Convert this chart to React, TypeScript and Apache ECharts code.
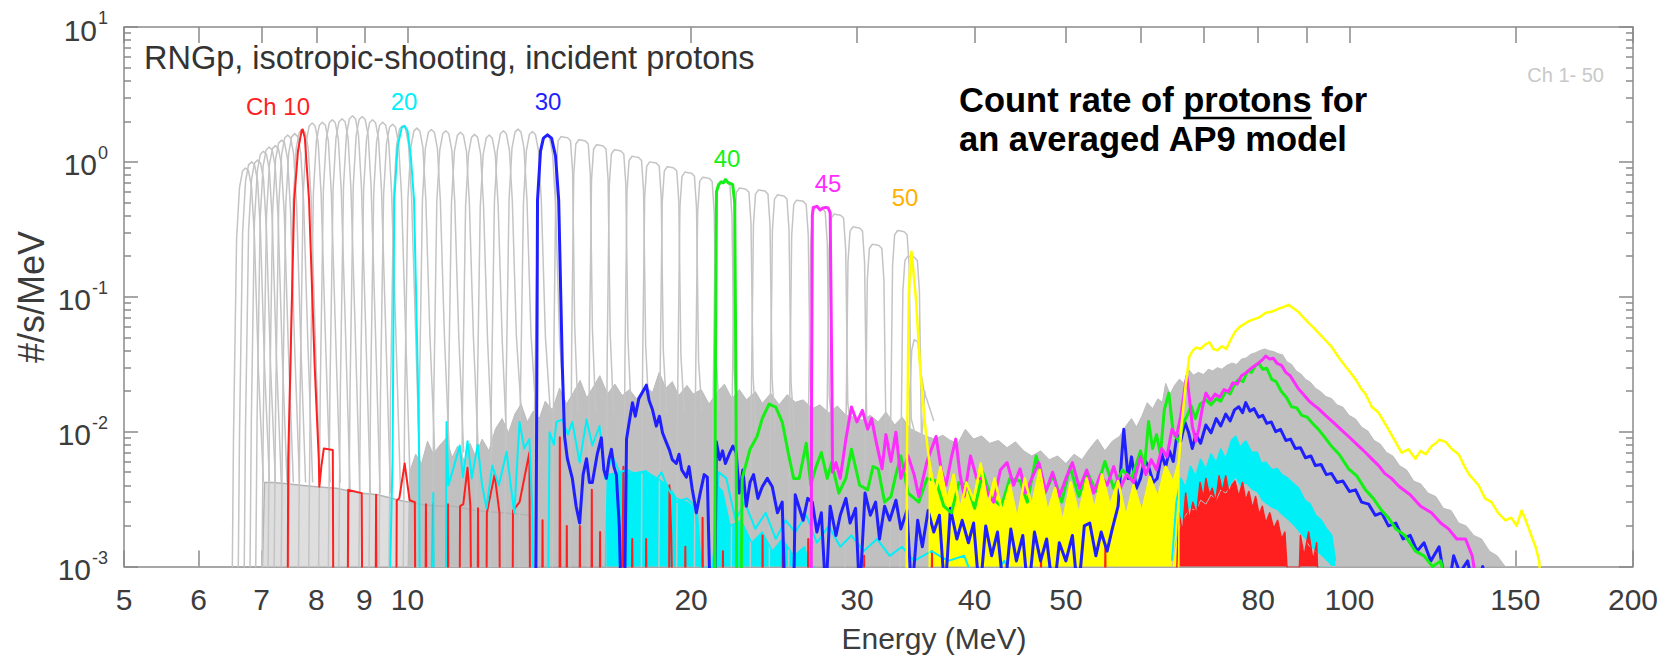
import React, { useEffect, useRef } from "react";
import * as echarts from "echarts";

type P = [number, number][];
// value standing for "zero counts": below the 1e-3 axis floor, so the line drops to the bottom
const Z = 6e-4;

// ---------------- axes ----------------
const X_TICKS = [5, 6, 7, 8, 9, 10, 20, 30, 40, 50, 60, 70, 80, 90, 100, 150, 200];
const X_LABELS = [5, 6, 7, 8, 9, 10, 20, 30, 40, 50, 80, 100, 150, 200];
const Y_DECADES = [-3, -2, -1, 0, 1];

// ---------------- channels 1-50 (grey) ----------------
const CH_E = [
  6.73, 6.83, 6.93, 7.03, 7.13, 7.24, 7.35, 7.46, 7.59, 7.73,
  7.92, 8.12, 8.32, 8.52, 8.74, 8.95, 9.18, 9.41, 9.64, 9.88,
  10.23, 10.6, 10.98, 11.38, 11.78, 12.21, 12.64, 13.1, 13.57, 14.05,
  14.67, 15.32, 16.0, 16.71, 17.45, 18.22, 19.02, 19.86, 20.74, 21.66,
  22.69, 23.77, 24.9, 26.1, 27.34, 28.6, 29.95, 31.4, 33.4, 34.25,
];
const CH_H = [
  0.9, 1.0, 1.03, 1.2, 1.29, 1.32, 1.45, 1.58, 1.62, 1.74,
  1.94, 1.97, 2.05, 2.09, 2.2, 2.17, 2.05, 1.97, 1.9, 1.85,
  1.78, 1.74, 1.7, 1.66, 1.6, 1.58, 1.7, 1.75, 1.68, 1.58,
  1.54, 1.46, 1.34, 1.23, 1.1, 1.0, 0.92, 0.84, 0.77, 0.72,
  0.64, 0.62, 0.57, 0.52, 0.46, 0.41, 0.33, 0.245, 0.31, 0.2,
];
const CH_TAIL = [
  0.0042, 0.0042, 0.0042, 0.0042, 0.0042, 0.0042, 0.0042, 0.0042, 0.0042, 0.0042,
  0.0042, 0.0042, 0.0035, 0.0035, 0.0035, 0.0035, 0.0035, 0.0035, 0.0035, 0.0035,
  0.007, 0.007, 0.007, 0.007, 0.007, 0.007, 0.014, 0.014, 0.014, 0.014,
  0.014, 0.014, 0.014, 0.014, 0.014, 0.014, 0.014, 0.014, 0.014, 0.014,
  0.01, 0.01, 0.01, 0.01, 0.01, 0.01, 0.01, 0.01, 0.01, 0.02,
];
// measured response shape (offset in log10 E, height relative to the channel peak)
const PEAK_DLOG = [-0.015, -0.0128, -0.0095, -0.0064, -0.0032, 0, 0.0032, 0.0064, 0.0095, 0.0138];
const PEAK_REL = [0.0002, 0.01, 0.3, 0.72, 0.95, 1, 0.95, 0.72, 0.3, 0.03];
const PEAK_TAIL_DLOG = 0.019;
const FLAT_DLOG = [-0.013, -0.011, -0.0088, -0.0066, -0.0035, 0, 0.0035, 0.0066, 0.0088, 0.011];
const FLAT_REL = [0.0002, 0.03, 0.55, 0.93, 1, 0.99, 0.98, 0.93, 0.55, 0.04];
const FLAT_TAIL_DLOG = 0.0145;

// ---------------- grey background ----------------
const GRAY_LIGHT: P = [
  [7.0, Z], [7.05, 0.0042], [7.2, 0.0042], [7.45, 0.0041], [7.7, 0.004], [8.0, 0.0039], [8.4, 0.0038],
  [8.9, 0.0035], [9.3, 0.0034], [9.8, 0.0031], [10.3, 0.0029], [10.8, 0.0028], [11.2, 0.0028],
  [11.8, 0.0026], [12.6, 0.0025], [13.5, 0.0024], [13.6, Z],
];
const GRAY_BAND: P = [
  [10.0, Z], [10.05, 0.005], [10.2, 0.0068], [10.35, 0.0058], [10.5, 0.0085], [10.65, 0.0068], [10.8, 0.0078],
  [11.0, 0.009], [11.15, 0.0064], [11.3, 0.0078], [11.5, 0.006], [11.65, 0.0082], [11.8, 0.0066], [12.0, 0.0088],
  [12.2, 0.0072], [12.4, 0.0105], [12.6, 0.0125], [12.8, 0.0098], [13.0, 0.0135], [13.2, 0.016], [13.4, 0.0118],
  [13.6, 0.0142], [13.8, 0.0125], [14.0, 0.0168], [14.25, 0.0145], [14.5, 0.021], [14.75, 0.016], [15.0, 0.0195],
  [15.25, 0.024], [15.5, 0.0178], [15.75, 0.0215], [16.0, 0.026], [16.3, 0.019], [16.6, 0.0225], [16.9, 0.0185],
  [17.2, 0.0205], [17.5, 0.0175], [17.9, 0.0215], [18.2, 0.0195], [18.5, 0.0275], [18.8, 0.021], [19.1, 0.0235],
  [19.4, 0.0185], [19.8, 0.022], [20.1, 0.019], [20.5, 0.0205], [20.9, 0.016], [21.3, 0.0195], [21.7, 0.0225],
  [22.1, 0.0175], [22.5, 0.0205], [22.9, 0.0172], [23.4, 0.0198], [23.8, 0.0162], [24.3, 0.0192], [24.8, 0.0158],
  [25.3, 0.0188], [25.8, 0.0165], [26.3, 0.0172], [26.9, 0.0148], [27.4, 0.0158], [28.0, 0.0138], [28.6, 0.0155],
  [29.2, 0.0132], [29.8, 0.0128], [30.4, 0.0122], [31.0, 0.0132], [31.6, 0.0118], [32.2, 0.014], [32.9, 0.0112],
  [33.5, 0.0128], [34.2, 0.0105], [34.9, 0.0098], [35.6, 0.0092], [36.3, 0.0088], [37.0, 0.0094], [37.7, 0.0086],
  [38.4, 0.0082], [39.1, 0.0104], [39.9, 0.0088], [40.7, 0.0093], [41.5, 0.0082], [42.4, 0.0086], [43.3, 0.0076],
  [44.2, 0.0084], [45.1, 0.0072], [46.0, 0.0066], [47.0, 0.0072], [48.0, 0.0062], [49.0, 0.0066], [50.0, 0.0058],
  [51.0, 0.0068], [52.0, 0.0062], [53.0, 0.0075], [54.0, 0.0088], [55.0, 0.0072], [56.0, 0.0085], [57.0, 0.0092],
  [58.0, 0.0112], [58.7, 0.0125], [59.4, 0.0108], [60.2, 0.013], [61.0, 0.0164], [61.8, 0.0148], [62.6, 0.0175],
  [63.3, 0.0165], [63.8, 0.0228], [64.5, 0.019], [65.2, 0.022], [66.0, 0.0245], [66.7, 0.0228], [67.5, 0.0288],
  [68.3, 0.0262], [69.1, 0.0275], [70.0, 0.0265], [70.8, 0.029], [71.6, 0.0282], [72.4, 0.0298], [73.2, 0.029],
  [74.1, 0.031], [75.0, 0.0322], [75.9, 0.0315], [76.8, 0.0345], [77.7, 0.0352], [78.6, 0.0375], [79.5, 0.0385],
  [80.4, 0.04], [81.3, 0.041], [82.2, 0.0398], [83.1, 0.0392], [84.0, 0.0378], [84.9, 0.0372], [85.8, 0.033],
  [86.8, 0.0315], [87.8, 0.0282], [88.8, 0.0268], [89.8, 0.0245], [90.9, 0.0232], [92.0, 0.021], [93.2, 0.0198],
  [94.4, 0.0182], [95.7, 0.0176], [97.0, 0.0158], [98.4, 0.0152], [99.9, 0.0132], [101.5, 0.0124], [103.0, 0.0108],
  [104.6, 0.0101], [106.2, 0.0086], [107.8, 0.0081], [109.5, 0.007], [111.2, 0.0066], [113.0, 0.0056],
  [115.0, 0.0052], [117.0, 0.0043], [119.0, 0.0041], [121.2, 0.0035], [123.5, 0.0033], [125.8, 0.0027],
  [128.2, 0.0026], [130.6, 0.0021], [133.0, 0.002], [135.5, 0.0017], [138.1, 0.0016], [140.8, 0.0013],
  [143.5, 0.0012], [146.3, 0.001], [149.0, 0.0009], [151.2, Z],
];
const GRAY_EXTRA: P = [
  [34.1, Z], [34.15, 0.02], [34.3, 0.04], [34.5, 0.048], [34.83, 0.046], [35.0, 0.03], [35.35, 0.02], [36.2, 0.012],
];

// ---------------- Ch 10 (red) ----------------
const RED_TRACE: P = [
  [7.46, Z], [7.47, 0.0062], [7.58, 0.52], [7.65, 1.2], [7.72, 1.72], [7.74, 1.74], [7.78, 1.5], [7.86, 0.52],
  [7.97, 0.03], [8.05, 0.0062], [8.06, 0.0039], [8.1, 0.0055], [8.15, 0.0075], [8.33, 0.0073], [8.34, Z],
  [8.64, Z], [8.65, 0.0037], [8.94, 0.0035], [8.95, Z], [9.25, Z], [9.26, 0.0034], [9.27, Z], [9.73, Z],
  [9.74, 0.0031], [9.8, 0.0032], [9.93, 0.0058], [10.05, 0.0031], [10.18, 0.003], [10.19, Z], [10.45, Z],
  [10.46, 0.0029], [10.47, Z], [10.63, Z], [10.64, 0.0029], [10.65, Z], [11.03, Z], [11.04, 0.0029], [11.05, Z],
  [11.36, Z], [11.37, 0.0028], [11.46, 0.0029], [11.58, 0.0054], [11.66, 0.0028], [11.68, Z], [11.87, Z],
  [11.88, 0.0027], [11.89, Z], [12.13, Z], [12.14, 0.0025], [12.37, 0.0048], [12.52, 0.0025], [12.53, Z],
  [12.93, Z], [12.94, 0.0026], [13.15, 0.003], [13.47, 0.007], [13.49, Z], [13.9, Z], [13.91, 0.0022],
  [13.92, Z], [14.5, Z], [14.51, 0.0091], [14.53, Z], [14.75, Z], [14.76, 0.002], [14.77, Z], [15.23, Z],
  [15.24, 0.002], [15.25, Z], [15.68, Z], [15.69, 0.0037], [15.7, Z], [16.0, Z], [16.01, 0.0018], [16.02, Z],
  [16.9, Z], [16.95, 0.0055], [17.0, Z], [17.3, Z], [17.32, 0.0016], [17.34, Z], [17.9, Z], [17.92, 0.0016],
  [17.94, Z], [18.95, Z], [18.97, 0.004], [19.05, 0.0018], [19.1, Z], [19.7, Z], [19.72, 0.0014], [19.74, Z],
  [20.55, Z], [20.57, 0.0023], [20.59, Z], [21.6, Z], [21.62, 0.0013], [21.64, Z], [23.8, Z], [23.82, 0.0017],
  [23.84, Z], [25.0, Z], [25.03, 0.0017], [25.06, Z], [26.6, Z], [26.63, 0.0016], [26.66, Z], [30.5, Z],
  [30.53, 0.0012], [30.56, Z], [36.0, Z], [36.04, 0.0013], [36.08, Z], [47.0, Z], [47.05, 0.0012], [47.1, Z],
  [55.0, Z], [55.06, 0.0014], [55.12, Z], [65.0, Z],
];
const RED_BUMP: P = [
  [65.4, Z], [65.9, 0.0025], [66.5, 0.0018], [67.0, 0.0035], [67.6, 0.0022], [68.2, 0.003], [68.8, 0.0024],
  [69.4, 0.0042], [70.0, 0.0032], [70.4, 0.0045], [71.0, 0.0034], [71.5, 0.0038], [72.1, 0.003], [72.7, 0.0047],
  [73.3, 0.0036], [73.9, 0.0047], [74.5, 0.0035], [75.0, 0.004], [75.6, 0.0043], [76.3, 0.0033], [77.0, 0.0042],
  [77.6, 0.0031], [78.2, 0.0036], [78.9, 0.0027], [79.5, 0.0033], [80.2, 0.0024], [80.8, 0.0028], [81.5, 0.0021],
  [82.3, 0.0025], [83.1, 0.0019], [83.9, 0.0022], [84.7, 0.0016], [85.4, 0.0018], [86.2, Z], [88.3, Z],
  [88.7, 0.0017], [89.5, 0.0012], [90.5, 0.0018], [91.5, 0.0011], [92.3, 0.0015], [92.7, Z],
];

// ---------------- Ch 20 (cyan) ----------------
const CYAN_TRACE: P = [
  [9.57, Z], [9.64, 0.0062], [9.68, 0.52], [9.76, 1.3], [9.86, 1.8], [9.93, 1.85], [10.0, 1.7], [10.08, 1.1],
  [10.16, 0.52], [10.25, 0.03], [10.29, 0.0062], [10.3, Z], [10.64, Z], [10.65, 0.0035], [10.66, Z], [10.98, Z],
  [11.0, 0.0118], [11.05, 0.004], [11.2, 0.0055], [11.36, 0.0079], [11.45, 0.0046], [11.58, 0.0085], [11.7, 0.0045],
  [11.87, 0.008], [12.0, 0.004], [12.13, 0.0027], [12.3, 0.0056], [12.5, 0.004], [12.74, 0.0071], [12.98, 0.0025],
  [13.15, 0.0118], [13.3, 0.0075], [13.47, 0.0088], [13.57, 0.0025], [13.6, Z], [14.1, Z], [14.15, 0.0099],
  [14.3, 0.008], [14.39, 0.0118], [14.6, 0.0123], [14.8, 0.0095], [14.96, 0.0118], [15.23, 0.0059], [15.49, 0.0123],
  [15.71, 0.0079], [15.99, 0.011], [16.2, 0.0045], [16.5, 0.0066], [16.78, 0.005], [17.1, 0.0052], [17.5, 0.0048],
  [17.9, 0.0051], [18.3, 0.0042], [18.6, 0.005], [18.9, 0.0038], [19.3, 0.003], [19.8, 0.0032], [20.2, 0.0028],
  [20.6, Z], [21.0, Z], [21.4, 0.005], [21.8, 0.0045], [22.3, 0.0022], [22.8, 0.003], [23.4, 0.0019], [24.0, 0.0025],
  [24.6, 0.0016], [25.2, 0.0022], [25.8, 0.0018], [26.5, 0.0024], [27.2, 0.0015], [28.0, 0.002], [28.8, 0.0014],
  [29.6, 0.0017], [30.5, 0.0013], [31.5, 0.0016], [32.5, 0.0012], [33.5, 0.0014], [34.5, 0.0011], [36.0, 0.0013],
  [37.5, 0.0011], [39.0, 0.0012], [40.5, Z], [43.0, 0.0011], [45.0, Z], [48.0, 0.001], [50.0, Z], [64.8, Z],
];
const CYAN_FILL: P = [
  [16.2, Z], [16.3, 0.0048], [16.8, 0.005], [17.3, 0.0049], [17.9, 0.0051], [18.4, 0.0045], [18.9, 0.004],
  [19.3, 0.0032], [19.8, 0.003], [20.3, 0.0026], [20.6, Z], [21.1, Z], [21.2, 0.0042], [21.6, 0.0036],
  [22.0, 0.002], [22.6, 0.0022], [23.2, 0.0015], [23.8, 0.0018], [24.4, 0.0013], [25.0, 0.0016], [25.7, 0.0012],
  [26.4, 0.0014], [27.1, Z],
];
// cyan band in the high-energy bump: upper and lower edges
const CYAN_BAND_E = [
  64.8, 65.5, 66.2, 67.0, 67.8, 68.7, 69.5, 70.4, 71.3, 72.2, 73.0, 73.9, 75.0, 75.7, 76.5, 77.6, 78.7,
  79.8, 80.6, 81.5, 82.7, 83.8, 84.7, 86.0, 87.2, 88.3, 89.6, 90.8, 92.0, 93.3, 94.5, 95.7, 96.6,
];
const CYAN_BAND_HI = [
  0.0011, 0.003, 0.0045, 0.0038, 0.0055, 0.0046, 0.0062, 0.0052, 0.0068, 0.0058, 0.0074, 0.0062, 0.0086,
  0.0092, 0.0076, 0.0085, 0.007, 0.007, 0.0058, 0.0059, 0.0052, 0.0053, 0.0048, 0.0045, 0.0041, 0.0038,
  0.0031, 0.0029, 0.0024, 0.0022, 0.0019, 0.0017, 0.0011,
];
const CYAN_BAND_LO = [
  0.001, 0.0016, 0.0021, 0.0024, 0.0027, 0.0026, 0.0031, 0.0029, 0.0034, 0.0031, 0.0037, 0.0035, 0.0041,
  0.0045, 0.0039, 0.0041, 0.0037, 0.0035, 0.0031, 0.0029, 0.0027, 0.0026, 0.0024, 0.0022, 0.002, 0.0018,
  0.0016, 0.0014, 0.0013, 0.0012, 0.0011, 0.001, 0.001,
];

// ---------------- Ch 30 (blue) ----------------
const BLUE_TRACE: P = [
  [13.68, Z], [13.71, 0.01], [13.74, 0.52], [13.84, 1.2], [13.94, 1.5], [14.08, 1.585], [14.22, 1.5], [14.36, 1.1],
  [14.47, 0.52], [14.6, 0.03], [14.68, 0.0092], [14.78, 0.0063], [14.96, 0.0045], [15.1, 0.0028], [15.23, 0.0021],
  [15.36, 0.0048], [15.49, 0.0063], [15.6, 0.0042], [15.71, 0.0042], [15.9, 0.0068], [16.06, 0.009], [16.16, 0.0052],
  [16.26, 0.0045], [16.36, 0.0062], [16.46, 0.0074], [16.56, 0.0055], [16.66, 0.0048], [16.78, 0.002], [16.85, Z],
  [17.0, Z], [17.08, 0.0088], [17.2, 0.012], [17.33, 0.0164], [17.45, 0.013], [17.6, 0.0175], [17.75, 0.0195],
  [17.93, 0.0221], [18.05, 0.017], [18.2, 0.0145], [18.37, 0.011], [18.51, 0.013], [18.65, 0.0098], [18.8, 0.0085],
  [18.97, 0.0073], [19.1, 0.0062], [19.29, 0.0058], [19.42, 0.0068], [19.55, 0.0052], [19.77, 0.0046], [19.9, 0.0055],
  [20.05, 0.0038], [20.26, 0.0025], [20.45, 0.0035], [20.65, 0.0048], [20.81, 0.0046], [20.95, Z], [21.2, Z],
  [21.27, 0.0084], [21.45, 0.0062], [21.6, 0.0072], [21.75, 0.0058], [21.95, 0.0068], [22.15, 0.0078], [22.33, 0.007],
  [22.5, 0.0035], [22.7, 0.0052], [22.89, 0.0028], [23.1, 0.0042], [23.3, 0.0048], [23.55, 0.0032], [23.8, 0.0039],
  [24.1, 0.0045], [24.39, 0.0039], [24.7, 0.0025], [24.99, 0.003], [25.15, Z], [25.7, Z], [25.8, 0.0034],
  [26.3, 0.0022], [26.6, 0.0032], [26.9, 0.003], [27.2, 0.0018], [27.5, 0.0025], [27.8, Z], [28.1, 0.0028],
  [28.5, 0.0017], [28.8, 0.0024], [29.2, 0.0032], [29.5, 0.0021], [29.9, 0.0027], [30.2, Z], [30.6, 0.0035],
  [31.0, 0.0024], [31.4, 0.003], [31.7, 0.0016], [32.1, 0.0028], [32.5, 0.0022], [33.0, 0.0031], [33.4, 0.0019],
  [33.9, 0.0026], [34.3, Z], [34.8, 0.0022], [35.2, 0.0014], [35.7, 0.0026], [36.2, 0.0018], [36.7, 0.0024],
  [37.2, Z], [37.7, 0.0027], [38.3, 0.0016], [38.8, 0.0022], [39.4, 0.0015], [39.9, 0.0021], [40.5, Z],
  [41.1, 0.002], [41.7, 0.0012], [42.3, 0.0018], [43.0, Z], [43.7, 0.0019], [44.3, 0.0011], [45.0, 0.0017],
  [45.6, Z], [46.3, 0.0018], [47.0, 0.0011], [47.7, 0.0016], [48.5, Z], [49.2, 0.0015], [50.0, 0.0011],
  [50.8, 0.0017], [51.5, Z], [52.3, 0.002], [53.0, 0.0021], [53.8, 0.0012], [54.5, 0.0018], [55.3, 0.0013],
  [56.0, 0.0019], [56.8, 0.0028], [57.3, 0.0065], [57.6, 0.0104], [58.0, 0.006], [58.2, 0.0045], [58.7, 0.0065],
  [59.4, 0.0038], [60.0, 0.0045], [60.6, 0.0062], [61.2, 0.0055], [61.9, 0.0042], [62.5, 0.0045], [63.2, 0.0068],
  [63.8, 0.0055], [64.4, 0.0072], [65.0, 0.006], [65.6, 0.0095], [66.2, 0.0085], [66.9, 0.0117], [67.5, 0.0098],
  [68.1, 0.0075], [68.7, 0.0095], [69.5, 0.0082], [70.4, 0.0112], [71.3, 0.0098], [72.2, 0.0125], [73.0, 0.011],
  [73.9, 0.0135], [74.7, 0.012], [75.5, 0.0145], [76.3, 0.0153], [77.0, 0.0138], [77.6, 0.0164], [78.4, 0.0142],
  [79.2, 0.0148], [80.1, 0.0128], [80.9, 0.0132], [81.7, 0.0115], [82.6, 0.0118], [83.5, 0.01], [84.5, 0.0104],
  [85.6, 0.0086], [86.6, 0.0088], [87.6, 0.0075], [88.7, 0.0076], [89.8, 0.0064], [91.0, 0.0066], [92.0, 0.0056],
  [93.3, 0.0057], [94.5, 0.0048], [95.7, 0.0049], [97.0, 0.0042], [98.4, 0.0043], [100.0, 0.0036], [101.5, 0.0037],
  [103.0, 0.003], [104.8, 0.0029], [106.5, 0.0024], [108.2, 0.0025], [110.0, 0.002], [112.0, 0.0021],
  [114.0, 0.0016], [116.0, 0.0017], [118.0, 0.0013], [120.0, 0.0015], [122.0, 0.0011], [124.5, 0.0014],
  [127.0, Z], [129.0, 0.0012], [131.0, 0.0009], [133.5, 0.0011], [136.0, Z], [138.5, 0.001], [141.0, Z],
  [143.5, 0.0009], [146.0, Z], [148.0, 0.0008], [150.5, Z],
];

// ---------------- Ch 40 (green) ----------------
const GREEN_TRACE: P = [
  [21.2, Z], [21.22, 0.02], [21.28, 0.6], [21.4, 0.68], [21.53, 0.71], [21.65, 0.7], [21.75, 0.74], [21.9, 0.7],
  [22.05, 0.69], [22.14, 0.68], [22.25, 0.5], [22.32, 0.02], [22.36, Z], [22.6, Z], [22.66, 0.0045],
  [23.1, 0.0074], [23.5, 0.0092], [23.8, 0.0125], [24.2, 0.016], [24.6, 0.0152], [25.0, 0.0117], [25.4, 0.0066],
  [25.7, 0.0045], [26.05, 0.0045], [26.5, 0.0082], [26.8, 0.004], [27.1, 0.0053], [27.5, 0.007], [27.9, 0.0045],
  [28.2, 0.0059], [28.7, 0.0035], [29.2, 0.0045], [29.6, 0.0074], [30.2, 0.004], [30.8, 0.0037], [31.2, 0.0055],
  [31.6, 0.0053], [32.1, 0.003], [32.6, 0.0033], [33.0, 0.0048], [33.4, 0.0066], [34.0, 0.0035], [34.9, 0.003],
  [35.6, 0.0045], [36.4, 0.0043], [37.1, 0.0028], [37.8, 0.0025], [38.5, 0.0042], [39.3, 0.004], [40.0, 0.0027],
  [40.8, 0.005], [41.7, 0.0032], [42.7, 0.0028], [43.6, 0.0045], [44.7, 0.0043], [45.5, 0.003], [46.5, 0.0066],
  [47.5, 0.0035], [48.5, 0.0048], [49.5, 0.003], [50.5, 0.0055], [51.6, 0.0033], [52.7, 0.005], [53.8, 0.0036],
  [55.0, 0.006], [56.2, 0.0038], [57.4, 0.0052], [58.7, 0.0045], [60.0, 0.0072], [60.6, 0.0055], [61.2, 0.0119],
  [61.8, 0.0075], [62.4, 0.0095], [63.0, 0.0068], [63.6, 0.0145], [64.3, 0.0193], [65.0, 0.0098], [65.9, 0.0085],
  [66.6, 0.0115], [67.2, 0.013], [67.9, 0.0155], [68.6, 0.0125], [69.4, 0.016], [70.4, 0.0172], [71.3, 0.0158],
  [72.2, 0.0175], [73.0, 0.0168], [73.9, 0.02], [74.7, 0.019], [75.5, 0.0225], [76.3, 0.0244], [77.1, 0.0235],
  [77.9, 0.028], [78.7, 0.0275], [79.5, 0.031], [80.1, 0.0322], [80.9, 0.029], [81.7, 0.0295], [82.7, 0.0244],
  [83.6, 0.0235], [84.6, 0.02], [85.7, 0.018], [86.8, 0.0153], [87.9, 0.015], [89.0, 0.0132], [90.2, 0.0128],
  [91.4, 0.0115], [92.7, 0.0104], [94.0, 0.0092], [95.7, 0.0078], [97.5, 0.0068], [99.8, 0.0053], [101.8, 0.0047],
  [104.0, 0.0037], [106.0, 0.0032], [108.2, 0.0026], [110.0, 0.0023], [112.0, 0.0019], [114.5, 0.0017],
  [117.5, 0.0013], [120.0, 0.0012], [122.5, 0.001], [125.0, 0.0011], [127.4, Z],
];

// ---------------- Ch 45 (magenta) ----------------
const MAGENTA_TRACE: P = [
  [26.83, Z], [26.85, 0.02], [26.9, 0.4], [26.96, 0.46], [27.2, 0.468], [27.42, 0.44], [27.6, 0.455], [27.8, 0.46],
  [27.96, 0.455], [28.1, 0.42], [28.22, 0.02], [28.26, 0.005], [28.5, 0.0059], [28.8, 0.0045], [29.2, 0.0088],
  [29.6, 0.0152], [30.0, 0.0118], [30.4, 0.0144], [30.8, 0.0104], [31.1, 0.0125], [31.4, 0.0088], [31.9, 0.0053],
  [32.2, 0.0095], [32.6, 0.006], [33.0, 0.0099], [33.4, 0.0045], [34.0, 0.0066], [34.5, 0.0048], [34.9, 0.0033],
  [35.6, 0.006], [36.4, 0.0092], [36.9, 0.005], [37.3, 0.004], [37.8, 0.0065], [38.2, 0.0088], [38.6, 0.0048],
  [39.0, 0.0033], [39.6, 0.0066], [40.2, 0.0045], [40.8, 0.0045], [41.3, 0.0035], [41.9, 0.003], [42.6, 0.0052],
  [43.3, 0.0059], [44.0, 0.004], [44.7, 0.0053], [45.3, 0.0035], [46.0, 0.0045], [46.8, 0.0059], [47.6, 0.0036],
  [48.4, 0.005], [49.2, 0.0033], [50.0, 0.0045], [50.8, 0.0059], [51.7, 0.0038], [52.6, 0.0052], [53.5, 0.0035],
  [54.4, 0.0048], [55.3, 0.004], [56.2, 0.0055], [57.1, 0.0038], [58.0, 0.0048], [59.0, 0.0042], [60.0, 0.0065],
  [60.8, 0.0048], [61.6, 0.0062], [62.4, 0.0052], [63.2, 0.0075], [64.0, 0.0065], [64.8, 0.0104], [65.5, 0.0092],
  [66.2, 0.013], [66.8, 0.02], [67.2, 0.0258], [67.6, 0.018], [68.1, 0.011], [68.7, 0.0085], [69.2, 0.0105],
  [69.8, 0.015], [70.4, 0.0193], [71.2, 0.017], [72.0, 0.019], [72.8, 0.018], [73.6, 0.0205], [74.4, 0.0198],
  [75.2, 0.023], [76.0, 0.0225], [76.8, 0.026], [77.6, 0.0272], [78.4, 0.029], [79.2, 0.0305], [80.0, 0.032],
  [80.8, 0.034], [81.5, 0.0363], [82.3, 0.0345], [83.0, 0.035], [83.8, 0.032], [84.7, 0.031], [85.6, 0.0275],
  [86.5, 0.026], [87.4, 0.0232], [88.3, 0.0207], [89.3, 0.019], [90.5, 0.017], [91.6, 0.0158], [92.7, 0.0148],
  [94.3, 0.0132], [96.0, 0.0118], [97.9, 0.0104], [99.8, 0.0092], [101.9, 0.008], [104.0, 0.007], [105.8, 0.0062],
  [107.4, 0.0056], [109.0, 0.0049], [110.8, 0.0045], [113.0, 0.0039], [116.0, 0.0034], [119.0, 0.0028],
  [122.2, 0.0025], [125.0, 0.0021], [127.4, 0.0019], [130.0, 0.0016], [132.8, 0.0016], [135.0, 0.0012], [137.1, Z],
];

// ---------------- Ch 50 (yellow) ----------------
const YELLOW_PEAK: P = [
  [33.88, Z], [33.9, 0.0063], [34.05, 0.1], [34.2, 0.19], [34.28, 0.216], [34.45, 0.15], [34.66, 0.095],
  [35.0, 0.031], [35.3, 0.015], [35.5, 0.0099],
];
const YELLOW_FILL: P = [
  [35.8, 0.006], [36.3, 0.0035], [36.8, 0.0055], [37.4, 0.003], [38.0, 0.0048], [38.6, 0.0026], [39.2, 0.0042],
  [39.9, 0.0031], [40.6, 0.0058], [41.3, 0.0028], [42.0, 0.0045], [42.8, 0.0025], [43.6, 0.004], [44.4, 0.0022],
  [45.2, 0.0045], [46.0, 0.0028], [46.9, 0.0052], [47.8, 0.0025], [48.7, 0.0038], [49.6, 0.0021], [50.6, 0.0042],
  [51.6, 0.0024], [52.6, 0.0045], [53.6, 0.0026], [54.6, 0.0048], [55.7, 0.0028], [56.8, 0.0043], [57.9, 0.0023],
  [59.0, 0.004], [60.2, 0.0025], [61.4, 0.0046], [62.6, 0.0032], [63.8, 0.0055], [65.0, 0.0042], [65.9, 0.006],
];
const YELLOW_BUMP: P = [
  [66.4, 0.012], [67.0, 0.022], [67.6, 0.036], [68.2, 0.04], [68.8, 0.042], [69.5, 0.041], [70.2, 0.044],
  [71.0, 0.046], [71.7, 0.041], [72.4, 0.04], [73.2, 0.043], [74.0, 0.041], [74.8, 0.048], [75.6, 0.055],
  [76.5, 0.06], [77.4, 0.063], [78.2, 0.066], [79.1, 0.068], [80.1, 0.07], [80.8, 0.073], [81.5, 0.076],
  [82.4, 0.077], [83.3, 0.079], [84.2, 0.082], [85.2, 0.084], [86.2, 0.0871], [87.0, 0.083], [88.3, 0.077],
  [89.4, 0.07], [90.5, 0.064], [91.6, 0.059], [92.7, 0.054], [94.2, 0.048], [95.7, 0.0427], [97.0, 0.037],
  [98.5, 0.032], [100.0, 0.028], [101.5, 0.0244], [102.8, 0.021], [104.0, 0.019], [105.6, 0.0153], [107.4, 0.0138],
  [108.8, 0.0118], [110.0, 0.0104], [111.8, 0.0085], [113.6, 0.007], [115.5, 0.0074], [117.5, 0.0063],
  [119.0, 0.0072], [120.5, 0.0068], [122.2, 0.0078], [123.5, 0.0082], [124.5, 0.0087], [126.5, 0.0084],
  [128.5, 0.0074], [130.6, 0.0068], [132.5, 0.0055], [134.0, 0.0048], [135.5, 0.0044], [137.1, 0.004],
  [139.3, 0.0032], [141.5, 0.003], [143.8, 0.0025], [146.4, 0.0022], [148.5, 0.0023], [150.5, 0.002],
  [152.3, 0.0026], [153.5, 0.0023], [155.5, 0.0018], [157.6, 0.0014], [159.0, 0.0011], [159.9, Z],
];

// ---------------- styling ----------------
const FONT = "'Liberation Sans', Arial, Helvetica, sans-serif";
const AXIS_COLOR = "#8a8a8a";
const LABEL_COLOR = "#3c3c3c";
const GRAY_LINE = "#c4c4c4";
const GRAY_FILL = "#c0c0c0";
const RED = "#ff1f1f";
const CYAN = "#00f0f8";
const BLUE = "#1f1fff";
const GREEN = "#14f014";
const MAGENTA = "#ff2cff";
const YELLOW = "#ffff00";

const L = Math.log10;
const toXY = (t: P) => t.map(([e, v]) => [L(e), L(v)]);
const zipXY = (es: number[], vs: number[]) => es.map((e, i) => [L(e), L(vs[i])]);
const withFloor = (t: P): P => [[t[0][0], Z], ...t, [t[t.length - 1][0], Z]];

function channelCurve(k: number) {
  const flat = k >= 30;
  const dl = flat ? FLAT_DLOG : PEAK_DLOG;
  const rel = flat ? FLAT_REL : PEAK_REL;
  const le = L(CH_E[k]);
  const pts = dl.map((d, i) => [le + d, L(CH_H[k] * rel[i])]);
  pts.push([le + (flat ? FLAT_TAIL_DLOG : PEAK_TAIL_DLOG), L(CH_TAIL[k])]);
  return pts;
}

function lineSeries(data: number[][], color: string, width: number, fill?: string) {
  const s: any = {
    type: "line",
    data,
    symbol: "none",
    showSymbol: false,
    silent: true,
    clip: true,
    animation: false,
    lineStyle: { color, width, join: "round" },
    itemStyle: { color },
    emphasis: { disabled: true },
  };
  if (fill) s.areaStyle = { color: fill, opacity: 1, origin: "start" };
  return s;
}

function buildOption() {
  const yMinor: number[] = [];
  for (let n = -3; n < 1; n++) for (let k = 2; k <= 9; k++) yMinor.push(n + L(k));
  const xMin = L(5);
  const xMax = L(200);

  const xAxisBase = {
    type: "value",
    min: xMin,
    max: xMax,
    splitLine: { show: false },
    axisLine: { show: true, onZero: false, lineStyle: { color: AXIS_COLOR, width: 1.5 } },
    axisTick: { show: true, inside: true, length: 16, customValues: X_TICKS.map(L), lineStyle: { color: AXIS_COLOR, width: 1.5 } },
  };
  const yBase = (position: string, major: boolean, labels: boolean) => ({
    type: "value",
    min: -3,
    max: 1,
    interval: 1,
    position,
    splitLine: { show: false },
    axisLine: { show: major, onZero: false, lineStyle: { color: AXIS_COLOR, width: 1.5 } },
    axisTick: {
      show: true,
      inside: true,
      length: major ? 14 : 7,
      customValues: major ? Y_DECADES : yMinor,
      lineStyle: { color: AXIS_COLOR, width: 1.5 },
    },
    axisLabel: labels
      ? {
          show: true,
          customValues: Y_DECADES,
          margin: 16,
          formatter: (v: number) => `{b|10}{s|${Math.round(v)}}`,
          rich: {
            b: { fontSize: 30, fontFamily: FONT, color: LABEL_COLOR, lineHeight: 36, verticalAlign: "bottom" },
            s: { fontSize: 18, fontFamily: FONT, color: LABEL_COLOR, lineHeight: 36, verticalAlign: "top", padding: [0, 0, 0, 1] },
          },
        }
      : { show: false },
  });

  const series: any[] = [];
  series.push(lineSeries(toXY(GRAY_LIGHT), "#b4b4b4", 1.5, "#dedede"));
  series.push(lineSeries(toXY(GRAY_BAND), "#bcbcbc", 1, GRAY_FILL));
  for (let k = 0; k < CH_E.length; k++) series.push(lineSeries(channelCurve(k), GRAY_LINE, 1.5));
  series.push(lineSeries(toXY(GRAY_EXTRA), GRAY_LINE, 1.5));
  series.push(lineSeries(toXY(CYAN_FILL), CYAN, 1.5, CYAN));
  // cyan band: cyan up to the upper edge, grey back below the lower edge
  series.push(lineSeries(zipXY(CYAN_BAND_E, CYAN_BAND_HI), CYAN, 2, CYAN));
  series.push(lineSeries(zipXY(CYAN_BAND_E, CYAN_BAND_LO), GRAY_FILL, 1, GRAY_FILL));
  series.push(lineSeries(toXY(RED_BUMP), RED, 1.5, RED));
  series.push(lineSeries(toXY(RED_TRACE), RED, 2));
  series.push(lineSeries(toXY(CYAN_TRACE), CYAN, 2));
  series.push(lineSeries(toXY(BLUE_TRACE), BLUE, 3));
  series.push(lineSeries(toXY(GREEN_TRACE), GREEN, 3));
  series.push(lineSeries(toXY(MAGENTA_TRACE), MAGENTA, 3));
  series.push(lineSeries(toXY(withFloor(YELLOW_FILL)), YELLOW, 1.5, YELLOW));
  series.push(lineSeries(toXY([...YELLOW_PEAK, ...YELLOW_FILL, ...YELLOW_BUMP]), YELLOW, 2.5));

  const txt = (text: string, x: number, y: number, fontSize: number, fill: string, extra: any = {}) => ({
    type: "text",
    x,
    y,
    silent: true,
    z: 100,
    style: { text, fontSize, fontFamily: FONT, fill, align: "left", verticalAlign: "middle", ...extra },
  });

  const boldSize = 34.5;
  const ulStart = 959 + 6.5 * boldSize;
  const ulEnd = ulStart + 3.722 * boldSize;

  return {
    animation: false,
    backgroundColor: "#ffffff",
    grid: { left: 124, right: 33, top: 27, bottom: 92.5, containLabel: false },
    xAxis: [
      {
        ...xAxisBase,
        position: "bottom",
        axisLabel: {
          show: true,
          customValues: X_LABELS.map(L),
          margin: 18,
          fontSize: 30,
          fontFamily: FONT,
          color: LABEL_COLOR,
          formatter: (v: number) => String(Math.round(Math.pow(10, v))),
        },
      },
      { ...xAxisBase, position: "top", axisLabel: { show: false } },
    ],
    yAxis: [yBase("left", true, true), yBase("left", false, false), yBase("right", true, false), yBase("right", false, false)],
    series,
    graphic: [
      txt("RNGp, isotropic-shooting, incident protons", 144, 58, 32.5, "#333333"),
      txt("Ch 10", 246, 106, 24, RED),
      txt("20", 404, 101, 24, CYAN, { align: "center" }),
      txt("30", 548, 101, 24, BLUE, { align: "center" }),
      txt("40", 727, 158, 24, GREEN, { align: "center" }),
      txt("45", 828, 183, 24, MAGENTA, { align: "center" }),
      txt("50", 905, 197, 24, "#ffb000", { align: "center" }),
      txt("Ch 1- 50", 1604, 75, 20, "#c8c8c8", { align: "right" }),
      txt("Count rate of protons for", 959, 100, boldSize, "#000000", { fontWeight: "bold" }),
      txt("an averaged AP9 model", 959, 139, boldSize, "#000000", { fontWeight: "bold" }),
      {
        type: "line",
        silent: true,
        z: 100,
        shape: { x1: ulStart, y1: 118, x2: ulEnd, y2: 118 },
        style: { stroke: "#000000", lineWidth: 2.5 },
      },
      {
        type: "text",
        x: 31,
        y: 297,
        rotation: Math.PI / 2,
        silent: true,
        z: 100,
        style: { text: "#/s/MeV", fontSize: 36, fontFamily: FONT, fill: LABEL_COLOR, align: "center", verticalAlign: "middle" },
      },
      txt("Energy (MeV)", 934, 638, 30, LABEL_COLOR, { align: "center" }),
    ],
  };
}

export default function App() {
  const ref = useRef<HTMLDivElement>(null);
  useEffect(() => {
    document.body.style.margin = "0";
    document.body.style.overflow = "hidden";
    if (!ref.current) return;
    const chart = echarts.init(ref.current, undefined, { renderer: "svg" });
    chart.setOption(buildOption() as any);
    return () => chart.dispose();
  }, []);
  return <div ref={ref} style={{ width: 1666, height: 659 }} />;
}
